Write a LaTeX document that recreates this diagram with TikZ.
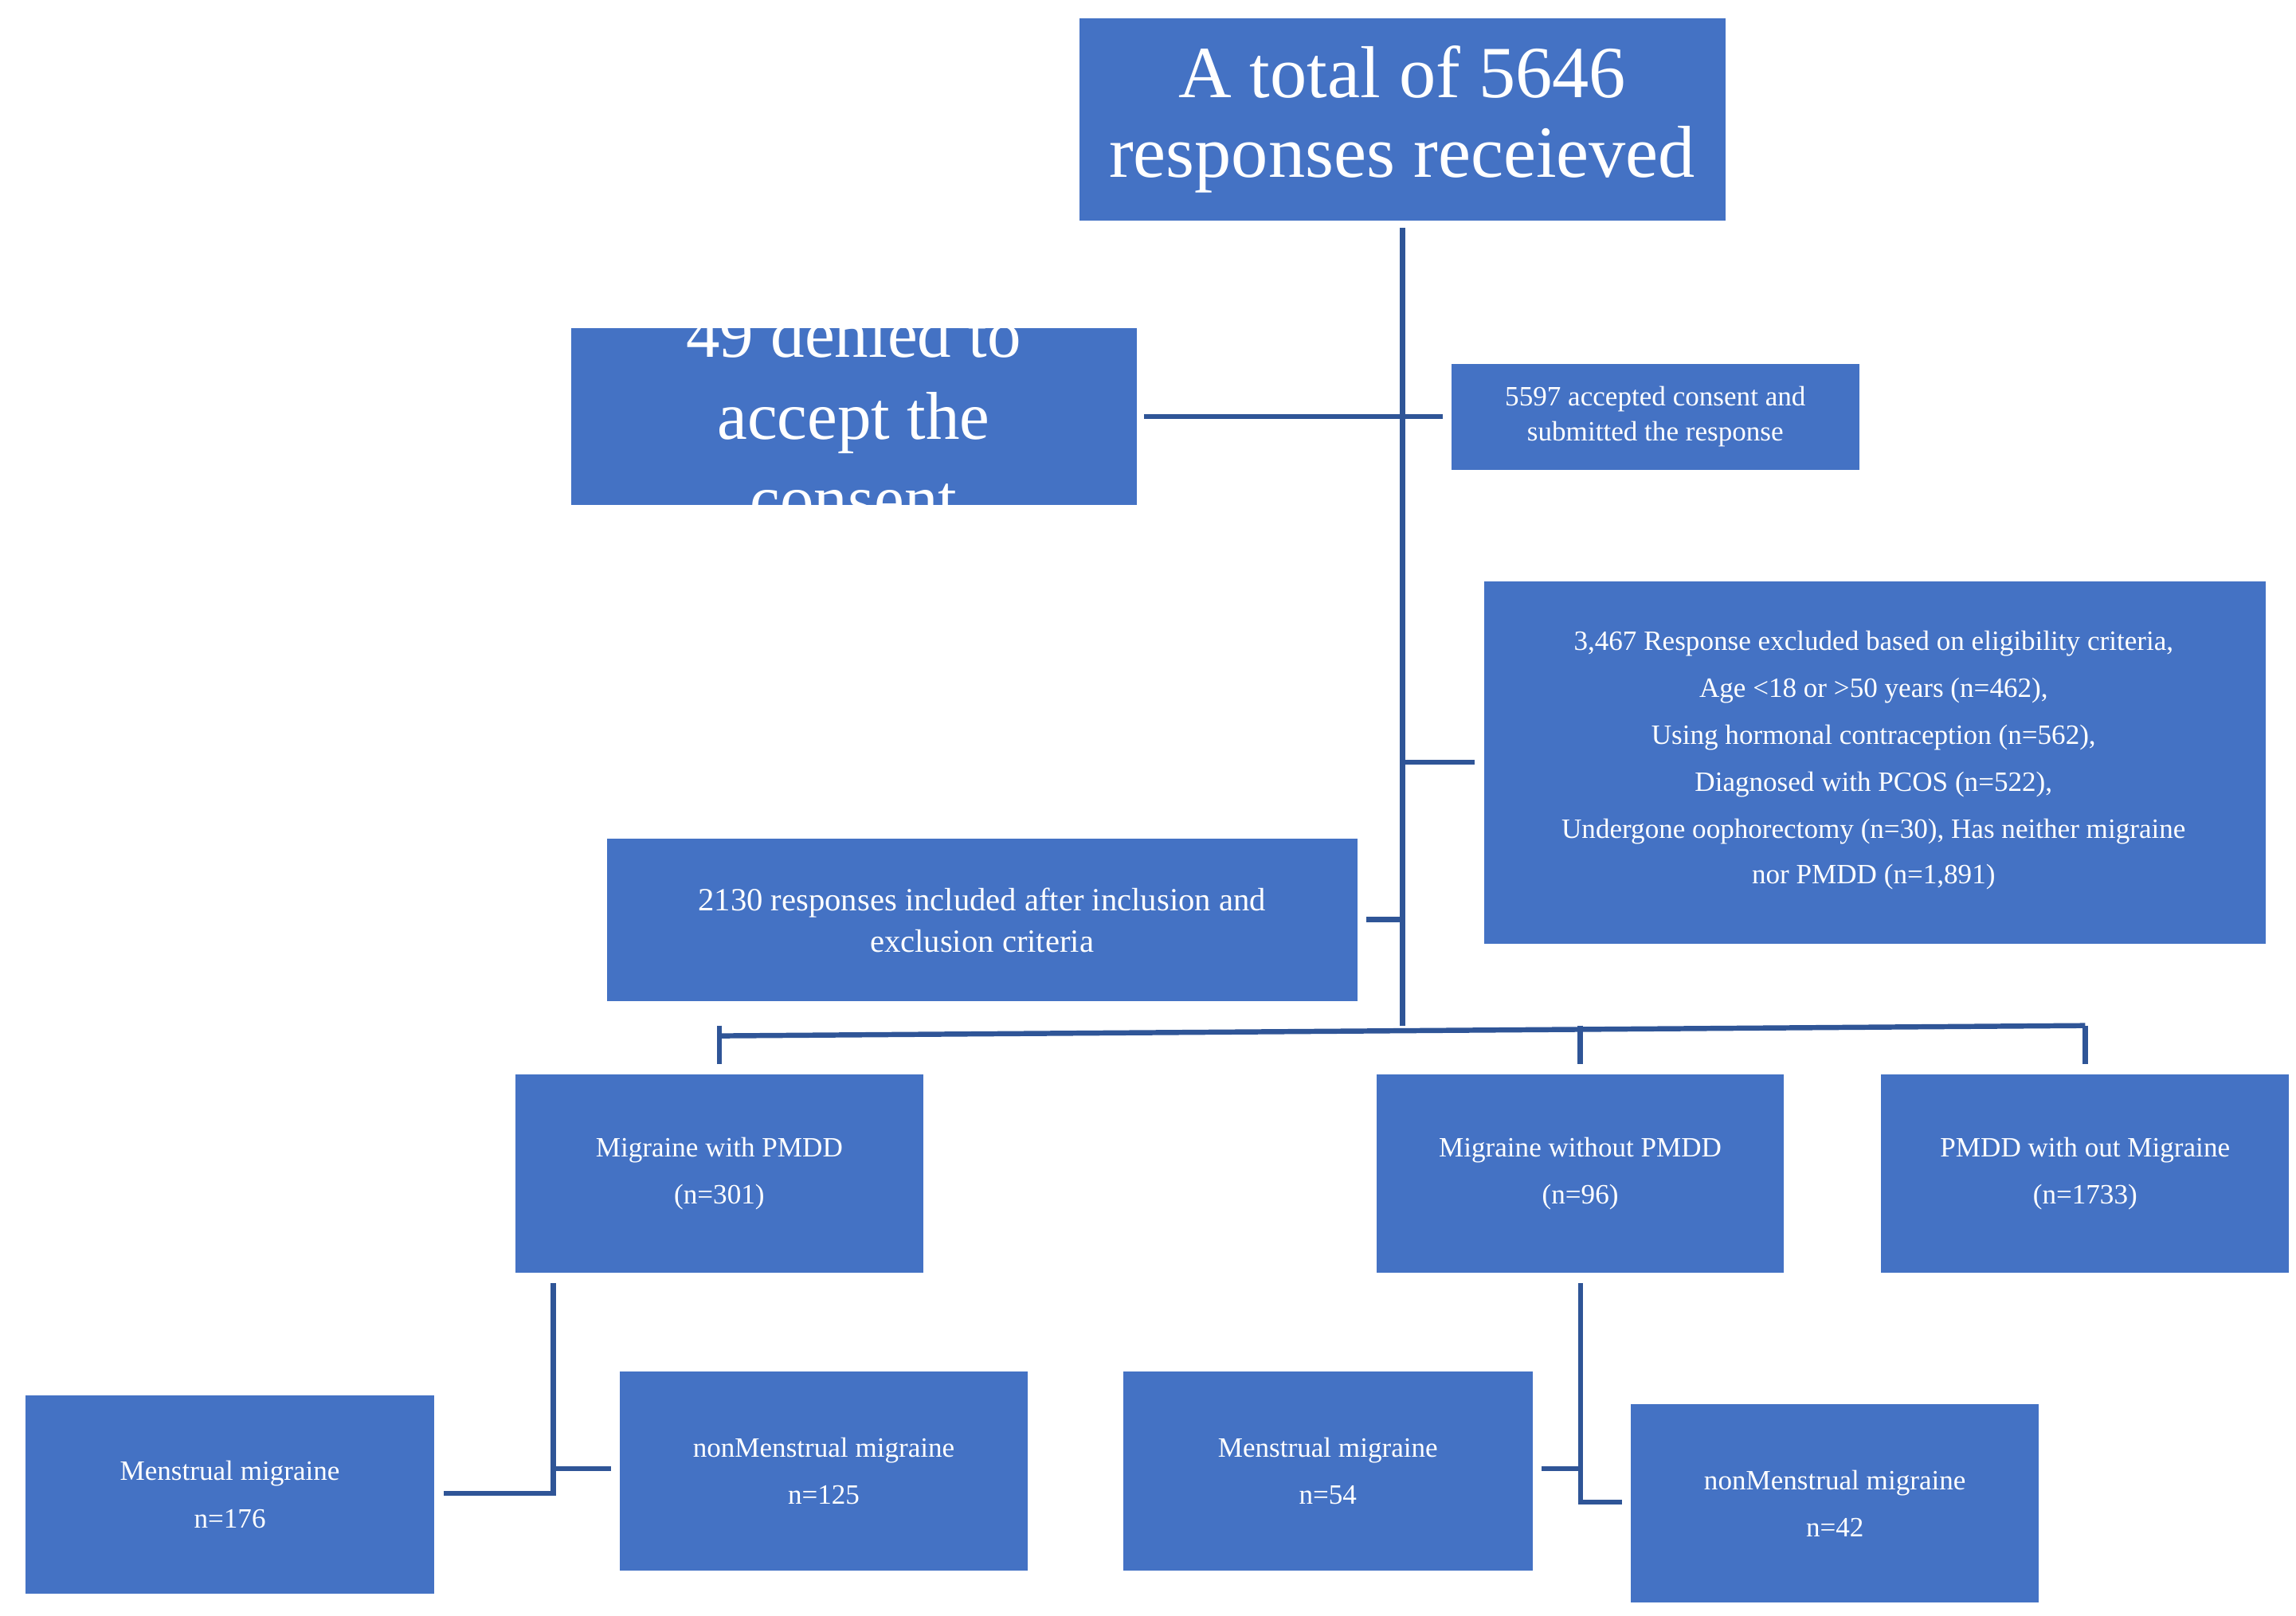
\documentclass[tikz,border=0pt]{standalone}
\usepackage{fontspec}
\setmainfont{Liberation Serif}
\begin{document}
\begin{tikzpicture}[x=1pt,y=-1pt,
  bx/.style={fill=boxblue,text=white,inner sep=0pt,align=center},
  ln/.style={draw=lineblue,line width=3.5pt},
  sm/.style={font=\fontsize{19}{32}\selectfont}]
\definecolor{boxblue}{HTML}{4472C4}
\definecolor{lineblue}{HTML}{2F5597}
\useasboundingbox (0,0) rectangle (1560,1098);
\def\bxr#1#2#3#4#5#6{\node[bx,minimum width=#3-#1,minimum height=#4-#2,anchor=north west,#6] (#5) at (#1,#2) {};}
% title
\node[bx,minimum width=439,minimum height=138,anchor=north west,font=\fontsize{50}{54}\selectfont] (top) at (733,12) {A total of 5646\\responses receieved};
% denied (clipped)
\node[bx,minimum width=384,minimum height=120,anchor=north west] (den) at (388,223) {};
\begin{scope}
\clip (388,223) rectangle (772,343);
\node[text=white,align=center,font=\fontsize{46}{56}\selectfont] at (580,283) {49 denied to\\accept the\\consent};
\end{scope}
\node[bx,sm,minimum width=277,minimum height=72,anchor=north west,font=\fontsize{19}{24}\selectfont] (acc) at (986,247) {5597 accepted consent and\\submitted the response};
\node[bx,minimum width=531,minimum height=246,anchor=north west,font=\fontsize{19}{32}\selectfont] (exc) at (1008,395) {};
\node[text=white,align=center,font=\fontsize{19}{32}\selectfont,anchor=north] at (1273,425) {3,467 Response excluded based on eligibility criteria,\\Age <18 or >50 years (n=462),\\Using hormonal contraception (n=562),\\Diagnosed with PCOS (n=522),\\Undergone oophorectomy (n=30), Has neither migraine};
\node[text=white,font=\fontsize{19}{24}\selectfont] at (1273,596) {nor PMDD (n=1,891)};
\node[bx,minimum width=510,minimum height=110,anchor=north west,font=\fontsize{22}{28}\selectfont] (inc) at (412,570) {2130 responses included after inclusion and\\exclusion criteria};
\node[bx,minimum width=277,minimum height=135,anchor=north west,font=\fontsize{19}{32}\selectfont] (m1) at (350,730) {Migraine with PMDD\\(n=301)};
\node[bx,minimum width=277,minimum height=135,anchor=north west,font=\fontsize{19}{32}\selectfont] (m2) at (935,730) {Migraine without PMDD\\(n=96)};
\node[bx,minimum width=277,minimum height=135,anchor=north west,font=\fontsize{19}{32}\selectfont] (m3) at (1278,730) {PMDD with out Migraine\\(n=1733)};
\node[bx,minimum width=278,minimum height=135,anchor=north west,font=\fontsize{19}{32}\selectfont] (a1) at (17,948) {Menstrual migraine\\n=176};
\node[bx,minimum width=277,minimum height=135,anchor=north west,font=\fontsize{19}{32}\selectfont] (a2) at (421,932) {nonMenstrual migraine\\n=125};
\node[bx,minimum width=278,minimum height=135,anchor=north west,font=\fontsize{19}{32}\selectfont] (b1) at (763,932) {Menstrual migraine\\n=54};
\node[bx,minimum width=277,minimum height=135,anchor=north west,font=\fontsize{19}{32}\selectfont] (b2) at (1108,954) {nonMenstrual migraine\\n=42};
% connectors
\coordinate (t1) at (953,155);
\coordinate (t2) at (953,697);
\draw[ln] (t1) -- (t2);
\draw[ln] ([xshift=5pt]den.east) -- ([xshift=-6pt]acc.west |- den.east);
\draw[ln] (953,518) -- ([xshift=-6pt]exc.west |- 0,518);
\draw[ln] ([xshift=6pt]inc.east |- 0,625) -- (953,625);
\draw[ln] ([yshift=-7pt]m1.north |- t2) -- (m3.north |- t2);
\draw[ln] (m1.north |- t2) -- ([yshift=7pt]m1.north);
\draw[ln] (m2.north |- t2) -- ([yshift=7pt]m2.north);
\draw[ln] (m3.north |- t2) -- ([yshift=7pt]m3.north);
\draw[ln] (376,872) -- (376,1015) -- ([xshift=6pt]a1.east |- 0,1015);
\draw[ln] (376,998) -- ([xshift=-6pt]a2.west |- 0,998);
\draw[ln] (1074,872) -- (1074,1021) -- ([xshift=-6pt]b2.west |- 0,1021);
\draw[ln] (1074,998) -- ([xshift=6pt]b1.east |- 0,998);
\end{tikzpicture}
\end{document}
